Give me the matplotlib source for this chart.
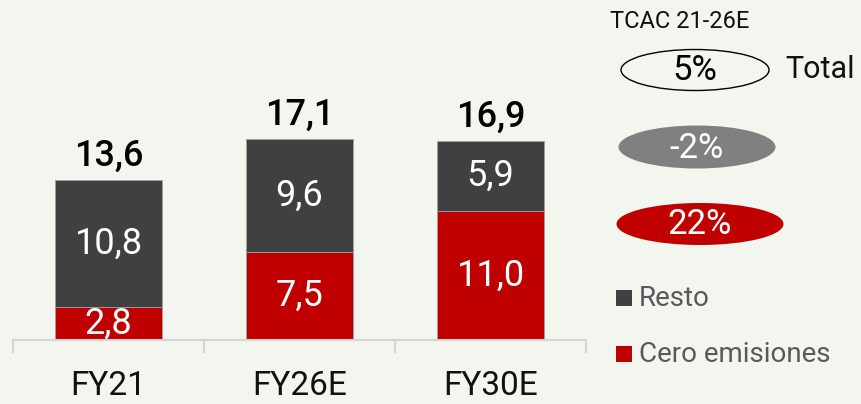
import matplotlib
matplotlib.use("Agg")
import matplotlib.pyplot as plt
from matplotlib.patches import Ellipse, Rectangle
import numpy as np

plt.rcParams['font.family'] = ['Roboto', 'DejaVu Sans']

# data
categories = ["FY21", "FY26E", "FY30E"]
cero_emisiones = [2.8, 7.5, 11.0]
resto = [10.8, 9.6, 5.9]
totals = [13.6, 17.1, 16.9]
tcac_labels = ["5%", "-2%", "22%"]
legend_labels = ["Resto", "Cero emisiones"]

BG = "#f3f6ee"
RED = "#c00000"
DARK = "#404040"

def fmt(v):
    return f"{v:.1f}".replace(".", ",")

fig = plt.figure(figsize=(8.61, 4.04), dpi=100, facecolor=BG)
ax = fig.add_axes([13/861, 0, 573/861, 1])
ax.set_facecolor(BG)

x = np.arange(len(categories))
w = 0.555
ax.bar(x, cero_emisiones, w, color=RED, edgecolor="#a0a0a0", linewidth=0.6)
ax.bar(x, resto, w, bottom=cero_emisiones, color=DARK, edgecolor="#a0a0a0", linewidth=0.6)

for i in range(len(categories)):
    ax.text(x[i], cero_emisiones[i] / 2, fmt(cero_emisiones[i]), ha="center", va="center",
            color="white", fontsize=26)
    ax.text(x[i], cero_emisiones[i] + resto[i] / 2, fmt(resto[i]), ha="center", va="center",
            color="white", fontsize=26)
    ax.annotate(fmt(totals[i]), (x[i], totals[i]), xytext=(0, 17), textcoords="offset points",
                ha="center", va="center", fontsize=26, fontweight="medium", color="black")
    ax.annotate(categories[i], (x[i], 0), xytext=(0, -33), textcoords="offset points",
                ha="center", va="center", fontsize=24, color="#111111")

ax.set_xlim(-0.5, 2.5)
ax.set_ylim(-5.44, 28.9)
for s in ["top", "right", "left"]:
    ax.spines[s].set_visible(False)
ax.spines["bottom"].set_position(("data", 0))
ax.spines["bottom"].set_color("#d4d4d4")
ax.spines["bottom"].set_linewidth(1.5)
ax.set_yticks([])
ax.set_xticks([-0.5, 0.5, 1.5, 2.5])
ax.set_xticklabels([])
ax.tick_params(axis="x", direction="out", length=9, width=1.5, color="#d4d4d4")

# right side annotations in pixel coords
ov = fig.add_axes([0, 0, 1, 1], facecolor="none")
ov.set_xlim(0, 861)
ov.set_ylim(404, 0)
ov.axis("off")

ov.text(610, 21, "TCAC 21-26E", ha="left", va="center", fontsize=17, color="#111111")

ell = [(695, 70, 148, 41, "none", "black", "black"),
       (697, 147, 157, 43, "#808080", "none", "white"),
       (700, 224, 167, 42, RED, "none", "white")]
for (cx, cy, ew, eh, fc, ec, tc), lab in zip(ell, tcac_labels):
    ov.add_patch(Ellipse((cx, cy), ew, eh, facecolor=fc, edgecolor=ec, linewidth=1))
    ov.text(cx, cy + 1, lab, ha="center", va="center", fontsize=25, color=tc)
ov.text(785, 70, "Total", ha="left", va="center", fontsize=22, color="#111111")

for (cy, col), lab in zip([(298, DARK), (354, RED)], legend_labels):
    ov.add_patch(Rectangle((616, cy - 8), 16, 16, facecolor=col, edgecolor="none"))
    ov.text(639, cy, lab, ha="left", va="center", fontsize=20, color="#595959")

fig.savefig("out.png", dpi=100, facecolor=BG)
